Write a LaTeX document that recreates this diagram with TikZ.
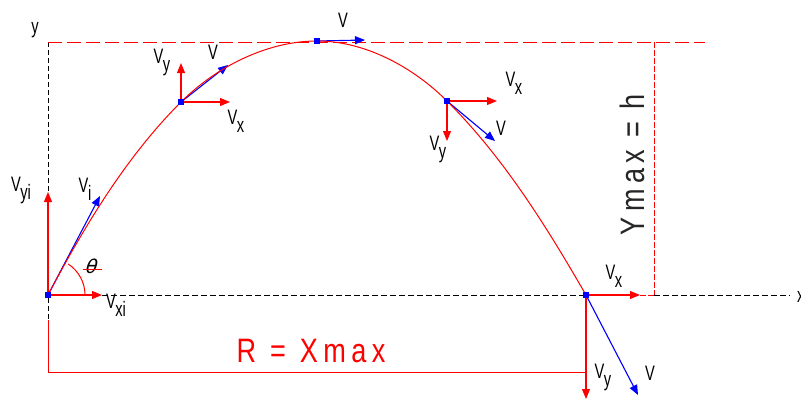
\documentclass[tikz,border=0pt]{standalone}
\usepackage{fontspec}
\setmainfont{Liberation Sans}[FakeStretch=0.7]
\newfontfamily\bigfont{Liberation Sans}[FakeStretch=0.8,LetterSpace=16]
\newfontfamily\thfont{DejaVu Sans}[FakeSlant=0.3]
\usetikzlibrary{arrows.meta}
\definecolor{pr}{RGB}{255,0,0}
\definecolor{pb}{RGB}{0,0,255}
\newcommand{\vsub}[2]{#1\kern-0.5bp\raisebox{-8bp}{#2}}
\begin{document}
\begin{tikzpicture}[x=1bp,y=-1bp,
  lbl/.style={inner sep=0pt, text=black, font={\fontsize{21}{21}\selectfont}},
  big/.style={inner sep=0pt, font={\bigfont\fontsize{34}{34}\selectfont}},
  vec/.style={line width=1.1bp, -{Triangle[length=10bp,width=8bp]}},
  redvec/.style={vec, draw=pr},
  bluevec/.style={vec, draw=pb},
  axisline/.style={black, line width=0.9bp, dash pattern=on 5bp off 3bp},
  guide/.style={pr, line width=1bp, dash pattern=on 14bp off 5bp},
  fineguide/.style={pr, line width=1bp, dash pattern=on 6bp off 2bp},
  curve/.style={pr, line width=1bp},
  dotmk/.style={fill=pb, draw=none, minimum size=6bp, inner sep=0pt, rectangle}
]
\useasboundingbox (0,0) rectangle (801,399);
% key points
\coordinate (O) at (48,295);
\coordinate (P1) at (181,102);
\coordinate (A) at (317,41);
\coordinate (P3) at (447,101);
\coordinate (P4) at (586,295);
% guide coordinates
\coordinate (yTop) at (48,42);
\coordinate (yBot) at (48,320);
\coordinate (gTR) at (705,42);
\coordinate (gV1) at (654,42);
\coordinate (gV2) at (654,295);
\coordinate (xEnd) at (790,295);
\coordinate (rb2) at (48,372);
\coordinate (rb3) at (586,372);
% vector ends
\coordinate (vyiE) at (48,192);
\coordinate (vxiE) at (102,295);
\coordinate (viE) at (100,196);
\coordinate (p1y) at (181,63);
\coordinate (p1x) at (230,102);
\coordinate (p1v) at (228,65);
\coordinate (av) at (365,40);
\coordinate (p3x) at (497,101);
\coordinate (p3y) at (447,141);
\coordinate (p3v) at (495,141);
\coordinate (p4x) at (640,295);
\coordinate (p4y) at (586,399);
\coordinate (p4v) at (638,395);
\coordinate (thA) at (85,295);
\coordinate (thL) at (83,269);
\coordinate (thR) at (102,269);

% axes
\draw[axisline] (yTop) -- (yBot);
\draw[axisline, dash pattern=on 6bp off 3bp] (O) -- (P4);
\draw[axisline, dash pattern=on 6bp off 3bp] (gV2) -- (xEnd);
% guides
\draw[guide] (yTop) -- (gTR);
\draw[fineguide] (gV1) -- (gV2);
\draw[fineguide] (p4x) -- (gV2);
\draw[pr, line width=1bp] (yBot) -- (rb2) -- (rb3);

% blue velocity vectors
\draw[bluevec] (O) -- (viE);
\draw[bluevec] (P1) -- (p1v);
\draw[bluevec] (A) -- (av);
\draw[bluevec] (P3) -- (p3v);
\draw[bluevec] (P4) -- (p4v);

% trajectory
\draw[curve] (O) .. controls (84.6,226) and (126,157) .. (P1)
  .. controls (216,67) and (267,41) .. (A)
  .. controls (365,41) and (413,67) .. (P3)
  .. controls (503.6,157.6) and (546,225.7) .. (P4);

% red components
\draw[redvec] (O) -- (vyiE);
\draw[redvec] (O) -- (vxiE);
\draw[redvec] (P1) -- (p1y);
\draw[redvec] (P1) -- (p1x);
\draw[redvec] (P3) -- (p3x);
\draw[redvec] (P3) -- (p3y);
\draw[redvec] (P4) -- (p4x);
\draw[redvec] (P4) -- (p4y);

% angle
\draw[pr, line width=1bp] (thA) arc[start angle=0, end angle=-57, radius=37];
\node[lbl, font={\thfont\fontsize{19}{19}\selectfont}] (th) at (90,266) {θ};
\draw[pr, line width=1bp] (thL) -- (thR);

% markers
\node[dotmk] (mO) at (O) {};
\node[dotmk] (m1) at (P1) {};
\node[dotmk] (mA) at (A) {};
\node[dotmk] (m3) at (P3) {};
\node[dotmk] (m4) at (P4) {};

% labels
\node[lbl] (ly) at (35,30) {y};
\node[lbl, anchor=west] (lx) at (797,297) {x};
\node[lbl] (lvyi) at (21,190) {\vsub{V}{yi}};
\node[lbl] (lvi) at (85,189) {\vsub{V}{i}};
\node[lbl] (lvxi) at (116,305) {\vsub{V}{xi}};
\node[lbl] (l1y) at (162,62) {\vsub{V}{y}};
\node[lbl] (l1v) at (213,52) {V};
\node[lbl] (l1x) at (236,121) {\vsub{V}{x}};
\node[lbl] (lav) at (343,20) {V};
\node[lbl] (l3x) at (514,83) {\vsub{V}{x}};
\node[lbl] (l3v) at (501,128) {V};
\node[lbl] (l3y) at (438,149) {\vsub{V}{y}};
\node[lbl] (l4x) at (614,276) {\vsub{V}{x}};
\node[lbl] (l4y) at (603,377) {\vsub{V}{y}};
\node[lbl] (l4v) at (650,373) {V};
\node[big, text=pr] (lR) at (311,351) {R\hspace{14bp}=\hspace{14bp}Xmax};
\node[big, text=black!85, rotate=90] (lY) at (632,165) {Ymax\hspace{12bp}=\hspace{12bp}h};
\end{tikzpicture}
\end{document}
